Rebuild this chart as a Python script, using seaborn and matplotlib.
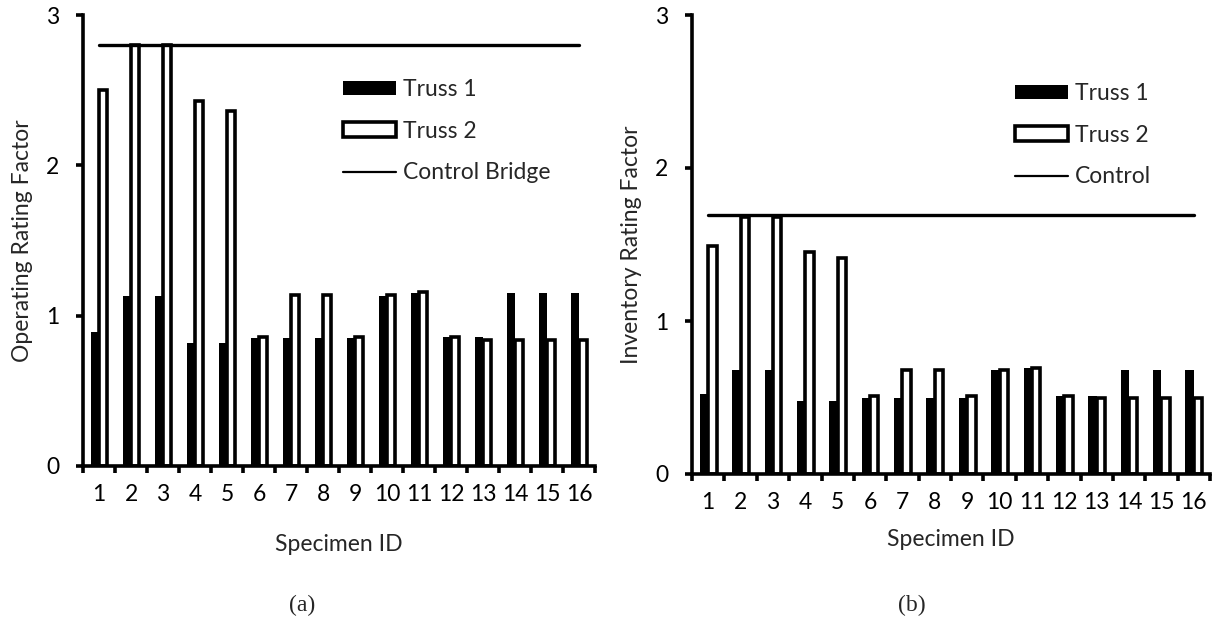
import numpy as np
import pandas as pd
import matplotlib
matplotlib.use("Agg")
import matplotlib.pyplot as plt
import seaborn as sns
from matplotlib.patches import Patch
from matplotlib.lines import Line2D

# Specimen categories
specimens = [str(i) for i in range(1, 17)]

# Operating rating factors
operating_truss1 = [0.89, 1.13, 1.13, 0.82, 0.82, 0.85, 0.85, 0.85,
                    0.85, 1.13, 1.15, 0.86, 0.86, 1.15, 1.15, 1.15]
operating_truss2 = [2.50, 2.80, 2.80, 2.43, 2.36, 0.86, 1.14, 1.14,
                    0.86, 1.14, 1.16, 0.86, 0.84, 0.84, 0.84, 0.84]
operating_control = 2.80

# Inventory rating factors
inventory_truss1 = [0.52, 0.68, 0.68, 0.48, 0.48, 0.50, 0.50, 0.50,
                    0.50, 0.68, 0.69, 0.51, 0.51, 0.68, 0.68, 0.68]
inventory_truss2 = [1.49, 1.68, 1.68, 1.45, 1.41, 0.51, 0.68, 0.68,
                    0.51, 0.68, 0.69, 0.51, 0.50, 0.50, 0.50, 0.50]
inventory_control = 1.69

yticks = [0, 1, 2, 3]

sns.set_style("white")
plt.rcParams["font.family"] = ["Lato", "DejaVu Sans"]

FS = 16.5
SPINE_W = 2.6
EDGE_W = 2.6

W, H = 1212, 636
fig = plt.figure(figsize=(W / 100, H / 100), dpi=100)


def px_axes(left, top, right, bottom):
    return fig.add_axes([left / W, 1 - bottom / H, (right - left) / W, (bottom - top) / H])


def draw_panel(ax, t1, t2, control, ylabel, xlabel_y, ylabel_x):
    n = len(specimens)
    df = pd.DataFrame({
        "Specimen ID": specimens * 2,
        "Value": list(t1) + list(t2),
        "Series": ["Truss 1"] * n + ["Truss 2"] * n,
    })
    sns.barplot(data=df, x="Specimen ID", y="Value", hue="Series",
                palette={"Truss 1": "black", "Truss 2": "white"},
                saturation=1, width=0.52, edgecolor="black", linewidth=EDGE_W,
                legend=False, ax=ax)
    for bar in ax.containers[0]:
        bar.set_linewidth(0)
    sns.lineplot(x=np.arange(n), y=[control] * n, color="black",
                 linewidth=2.4, ax=ax)

    ax.set_xlim(-0.5, n - 0.5)
    ax.set_ylim(0, 3)
    ax.set_yticks(yticks, labels=[str(v) for v in yticks])
    ax.set_xticks(np.arange(n + 1) - 0.5, labels=[""] * (n + 1))
    ax.set_xticks(np.arange(n), labels=specimens, minor=True)

    for side in ("top", "right"):
        ax.spines[side].set_visible(False)
    for side in ("left", "bottom"):
        ax.spines[side].set_linewidth(SPINE_W)
        ax.spines[side].set_color("black")

    ax.tick_params(axis="y", which="major", direction="out", length=5,
                   width=SPINE_W, labelsize=FS, pad=12, left=True, colors="black")
    ax.tick_params(axis="x", which="major", direction="out", length=5,
                   width=SPINE_W, bottom=True, colors="black")
    ax.tick_params(axis="x", which="minor", length=0, labelsize=FS, pad=13,
                   bottom=True, colors="black")

    ax.set_xlabel("Specimen ID", fontsize=FS, va="center")
    ax.xaxis.set_label_coords(0.5, xlabel_y)
    ax.set_ylabel(ylabel, fontsize=FS, va="center")
    ax.yaxis.set_label_coords(ylabel_x, 0.5)
    ax.grid(False)


ax_a = px_axes(83, 15, 595, 466)
draw_panel(ax_a, operating_truss1, operating_truss2, operating_control,
           "Operating Rating Factor", -0.175, -0.119)

ax_b = px_axes(692, 15, 1210, 474)
draw_panel(ax_b, inventory_truss1, inventory_truss2, inventory_control,
           "Inventory Rating Factor", -0.143, -0.116)


def add_legend(x, y, labels):
    handles = [
        Patch(facecolor="black", edgecolor="black", linewidth=0),
        Patch(facecolor="white", edgecolor="black", linewidth=EDGE_W),
        Line2D([], [], color="black", linewidth=1.6),
    ]
    fig.legend(handles, labels, loc="upper left", bbox_to_anchor=(x / W, 1 - y / H),
               frameon=False, borderpad=0, borderaxespad=0, fontsize=FS,
               handlelength=2.3, handleheight=0.6, handletextpad=0.3,
               labelspacing=0.9)


add_legend(343, 79, ["Truss 1", "Truss 2", "Control Bridge"])
add_legend(1015, 83, ["Truss 1", "Truss 2", "Control"])

fig.text(302 / W, 1 - 605 / H, "(a)", family="Liberation Serif", fontsize=17,
         ha="center", va="center")
fig.text(912 / W, 1 - 605 / H, "(b)", family="Liberation Serif", fontsize=17,
         ha="center", va="center")

fig.savefig("out.png", dpi=100, facecolor="white")
